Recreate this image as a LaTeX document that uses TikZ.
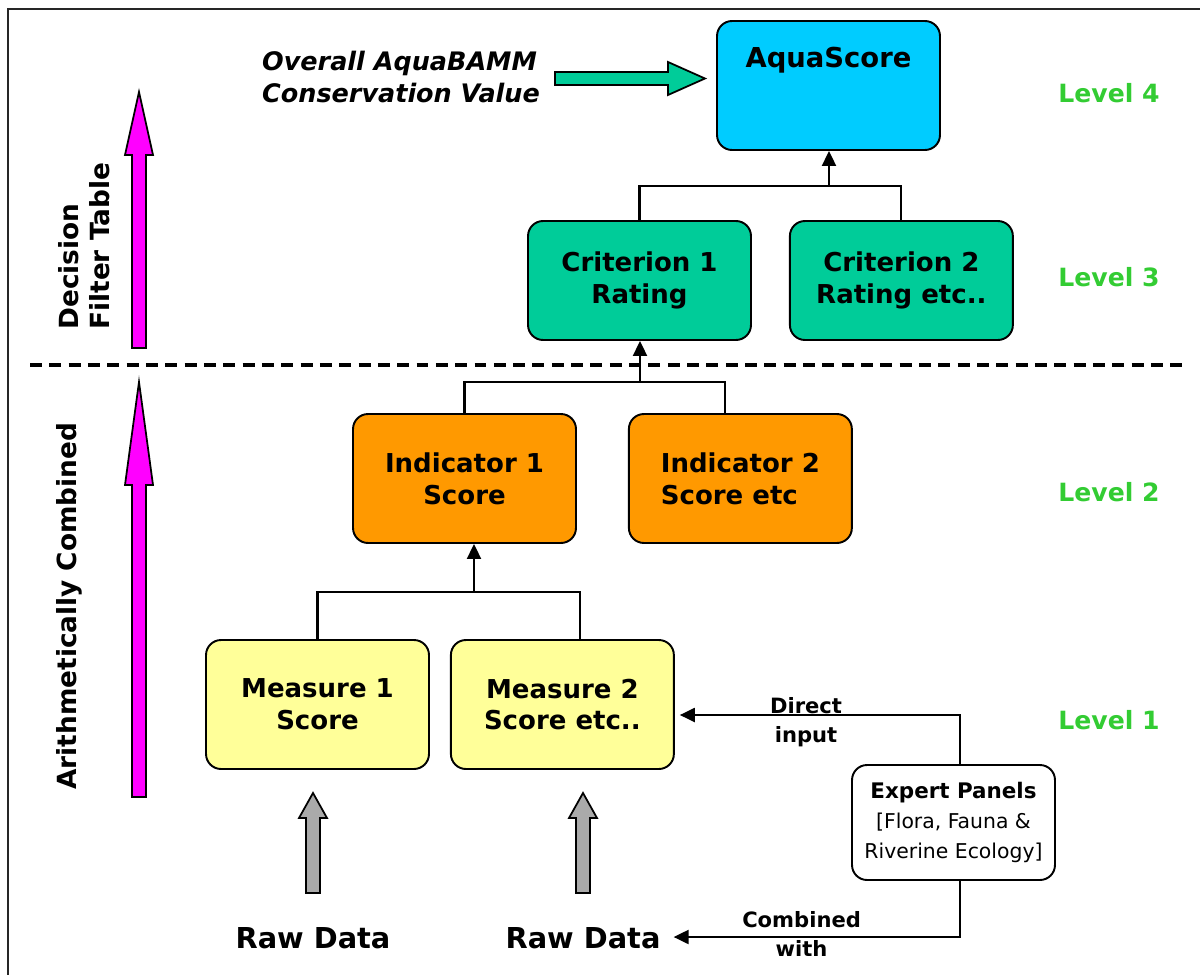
\documentclass[tikz,border=0pt]{standalone}
\usepackage{fontspec}
\setmainfont{DejaVu Sans}
\usetikzlibrary{arrows.meta,positioning}
\definecolor{aquacyan}{RGB}{0,204,255}
\definecolor{critgreen}{RGB}{0,204,153}
\definecolor{indorange}{RGB}{255,153,0}
\definecolor{measyellow}{RGB}{255,255,153}
\definecolor{lvlgreen}{RGB}{51,204,51}
\definecolor{rawgray}{RGB}{170,170,170}
\definecolor{upmagenta}{RGB}{255,0,255}

\begin{document}
\begin{tikzpicture}[x=0.02cm, y=-0.02cm,
      box/.style={draw, rounded corners=0.3cm, line width=1.1pt, minimum width=4.46cm, minimum height=2.58cm,
        align=center, inner sep=0pt, font=\fontsize{14.8}{18}\selectfont\bfseries},
      conn/.style={line width=1.2pt},
      arr/.style={-{Triangle[length=0.3cm,width=0.28cm]}, line width=1.2pt},
      blockarr/.style={draw, line width=1pt, line join=miter},
      lvl/.style={text=lvlgreen, font=\fontsize{14.3}{17}\selectfont\bfseries},
      side/.style={inner sep=0pt, font=\fontsize{15}{18}\selectfont\bfseries},
      flbl/.style={align=center, font=\fontsize{12}{16.5}\selectfont\bfseries},
      rawlbl/.style={font=\fontsize{16.4}{19}\selectfont\bfseries}]
    \useasboundingbox (0,0) rectangle (1200,974);
    \draw[line width=1pt, black!85] (8,9) rectangle (1230,1000);

    % levels 3 and 4
    \node[box, fill=aquacyan, text height=0.92cm, text depth=1.66cm, font=\fontsize{15.6}{18}\selectfont\bfseries] (aqua) at (828.5,85.5) {AquaScore};
    \node[box, fill=critgreen, minimum height=2.38cm] (crit1) at (639.5,280.5) {Criterion 1\\Rating};
    \node[box, fill=critgreen, minimum height=2.38cm, right=0.74cm of crit1] (crit2) {Criterion 2\\Rating etc..};
    % levels 1 and 2
    \node[box, fill=indorange] (ind1) at (464.5,478.5) {Indicator 1\\Score};
    \node[box, fill=indorange, right=1.02cm of ind1, align=left] (ind2) {Indicator 2\\Score etc};
    \node[box, fill=measyellow] (meas1) at (317.5,704.5) {Measure 1\\Score};
    \node[box, fill=measyellow, right=0.4cm of meas1] (meas2) {Measure 2\\Score etc..};
    \node[box, fill=white, minimum width=4.06cm, minimum height=2.3cm, font=\fontsize{11.6}{17}\selectfont] (expert) at (953.5,822.5)
      {\fontsize{12.2}{17}\selectfont\textbf{Expert Panels}\\{[}Flora, Fauna \&\\Riverine Ecology{]}};

    \node[rawlbl, anchor=base] (raw1) at (313,948) {Raw Data};
    \node[rawlbl, anchor=base] (raw2) at (583,948) {Raw Data};

    \node[align=left, font=\fontsize{14.5}{18.7}\selectfont\bfseries\itshape] (overall) at (401,77) {Overall AquaBAMM\\Conservation Value};

    \node[lvl] (lv4) at (1109,93) {Level 4};
    \node[lvl] (lv3) at (1109,277) {Level 3};
    \node[lvl] (lv2) at (1109,492) {Level 2};
    \node[lvl] (lv1) at (1109,720) {Level 1};

    \node[side, rotate=90, anchor=west, align=left] (dft) at (84,330) {Decision\\Filter Table};
    \node[side, rotate=90, anchor=west] (arith) at (69,790) {Arithmetically Combined};

    % block arrows
    \draw[blockarr, fill=critgreen] (555,72) -- (668,72) -- (668,62) -- (705,78.5) -- (668,95) -- (668,85) -- (555,85) -- cycle;
    \draw[blockarr, fill=upmagenta] (132,348) -- (132,155) -- (125,155) -- (139,92) -- (153,155) -- (146,155) -- (146,348) -- cycle;
    \draw[blockarr, fill=upmagenta] (132,797) -- (132,485) -- (125,485) -- (139,382) -- (153,485) -- (146,485) -- (146,797) -- cycle;
    \draw[blockarr, fill=rawgray] (306,893) -- (306,818) -- (299,818) -- (313,793) -- (327,818) -- (320,818) -- (320,893) -- cycle;
    \draw[blockarr, fill=rawgray] (576,893) -- (576,818) -- (569,818) -- (583,793) -- (597,818) -- (590,818) -- (590,893) -- cycle;

    \draw[line width=2.3pt, dash pattern=on 6.8pt off 4.2pt] (30,365) -- (1185,365);

    % tree connectors
    \coordinate (j4) at (829,186);
    \draw[conn] (crit1.north) |- (j4) -| (crit2.north);
    \draw[arr] (j4) -- (j4 |- aqua.south);
    \coordinate (j3) at (640,382);
    \draw[conn] (ind1.north) |- (j3) -| ([xshift=-0.3cm]ind2.north);
    \draw[arr] (j3) -- (j3 |- crit1.south);
    \coordinate (j2) at (474,592);
    \draw[conn] (meas1.north) |- (j2) -| ([xshift=0.35cm]meas2.north);
    \draw[arr] (j2) -- (j2 |- ind1.south);

    % expert panel inputs
    \coordinate (ex) at (960,715);
    \draw[arr, shorten >=0.1cm] (ex |- expert.north) -- (ex) -- node[pos=0.54, flbl, yshift=-0.14cm]{Direct\\input} (ex -| meas2.east);
    \coordinate (ec) at (960,937);
    \draw[arr, shorten >=0.14cm] (ec |- expert.south) -- (ec) -- node[pos=0.54, flbl, yshift=0.06cm]{Combined\\with} (ec -| raw2.east);
  \end{tikzpicture}
\end{document}
